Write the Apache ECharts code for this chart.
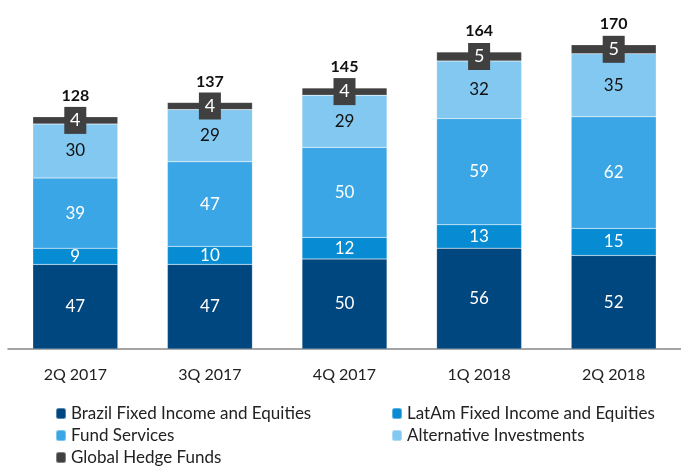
<!DOCTYPE html>
<html><head><meta charset="utf-8">
<script src="https://cdn.jsdelivr.net/npm/echarts@6/dist/echarts.min.js"></script>
<style>html,body{margin:0;padding:0;background:#fff}#c{width:681px;height:467px}</style>
</head><body><div id="c"></div>
<script>
const categories = ['2Q 2017','3Q 2017','4Q 2017','1Q 2018','2Q 2018'];
const brazil = [47,47,50,56,52];
const latam = [9,10,12,13,15];
const fundServices = [39,47,50,59,62];
const alternative = [30,29,29,32,35];
const hedge = [4,4,4,5,5];
const totals = [128,137,145,164,170];
const names = ['Brazil Fixed Income and Equities','LatAm Fixed Income and Equities','Fund Services','Alternative Investments','Global Hedge Funds'];

const FONT = 'Lato,"Liberation Sans",Arial,sans-serif';
const colors = ['#00467F','#078CD4','#3AA6E6','#82C8F0','#404040'];

function seg(name, data, color, labelColor, extraLabel){
  return {
    name, type:'bar', stack:'s', data, barWidth:85,
    itemStyle:{color, borderColor:'rgba(255,255,255,0.35)', borderWidth:0.5},
    label:Object.assign({show:true, position:'inside', color:labelColor, fontSize:17, fontFamily:FONT}, extraLabel||{}),
    emphasis:{disabled:true}
  };
}

const chart = echarts.init(document.getElementById('c'), null, {renderer:'canvas'});
chart.setOption({
  animation:false,
  color: colors,
  grid:{left:8, right:-4, top:7, bottom:118, containLabel:false},
  xAxis:{type:'category', data:categories,
    axisLine:{lineStyle:{color:'#888', width:1.5}}, axisTick:{show:false},
    axisLabel:{color:'#222', fontSize:16, fontFamily:FONT, margin:18}},
  yAxis:{type:'value', min:0, max:190, show:false, splitLine:{show:false}},
  legend:[
    {orient:'vertical', left:50, top:400, height:70, itemWidth:10, itemHeight:11, itemGap:5,
      data:[names[0],names[2],names[4]], textStyle:{fontSize:17, color:'#222', fontFamily:FONT}, selectedMode:false},
    {orient:'vertical', left:386, top:400, height:70, itemWidth:10, itemHeight:11, itemGap:5,
      data:[names[1],names[3]], textStyle:{fontSize:17, color:'#222', fontFamily:FONT}, selectedMode:false}
  ],
  series:[
    seg(names[0], brazil, colors[0], '#fff'),
    seg(names[1], latam, colors[1], '#fff'),
    seg(names[2], fundServices, colors[2], '#fff'),
    seg(names[3], alternative, colors[3], '#111'),
    seg(names[4], hedge, colors[4], '#fff', {backgroundColor:'#404040', padding:[5,5,4,5], width:12, align:'center', fontSize:18}),
    {name:'total', type:'bar', stack:'s', data:totals.map(()=>0), barWidth:85,
      itemStyle:{color:'transparent'},
      label:{show:true, position:'top', distance:13, fontSize:16, fontWeight:'bold', color:'#111', fontFamily:FONT,
        formatter:p=>String(totals[p.dataIndex])},
      emphasis:{disabled:true}}
  ]
});
</script></body></html>
